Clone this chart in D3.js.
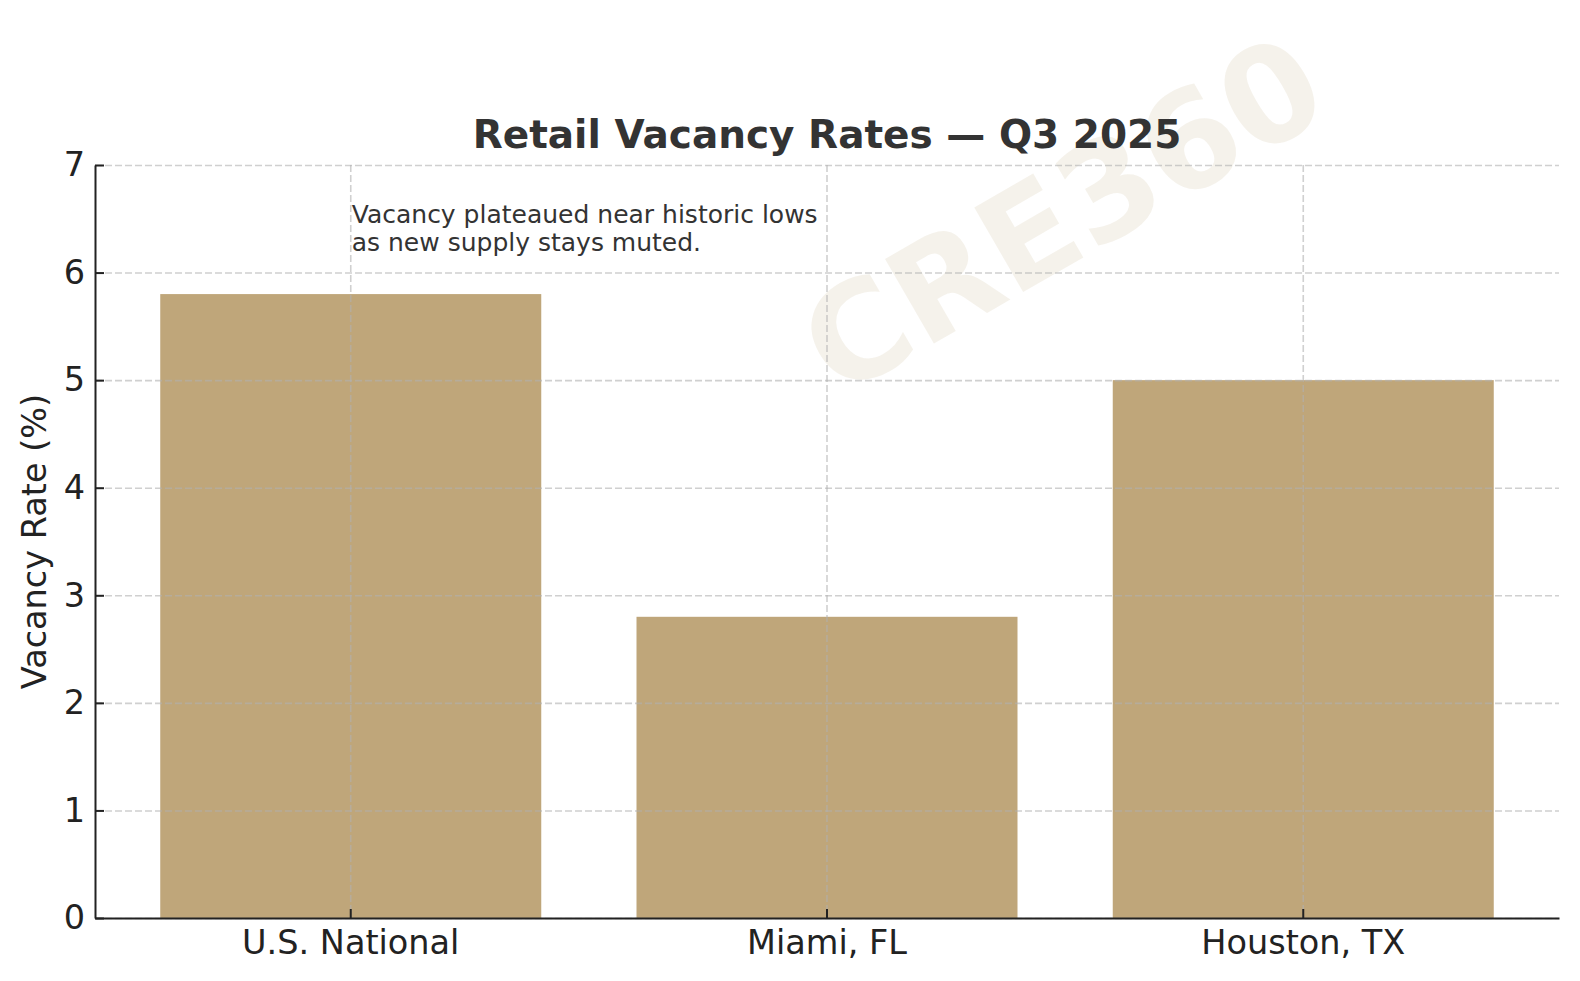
<!DOCTYPE html>
<html>
<head>
<meta charset="utf-8">
<script src="https://cdn.jsdelivr.net/npm/d3@7"></script>
<style>
  body { margin: 0; background: #fff; }
  text { font-family: "DejaVu Sans", sans-serif; }
</style>
</head>
<body>
<div class="vacancy-plot"></div>
<script>
// values
const regions = ['U.S. National', 'Miami, FL', 'Houston, TX'];
const vacancy = [5.8, 2.8, 5.0];
const yTicks = [0, 1, 2, 3, 4, 5, 6, 7];
const chartTitle = 'Retail Vacancy Rates — Q3 2025';
const yLabel = 'Vacancy Rate (%)';
const noteLines = ['Vacancy plateaued near historic lows', 'as new supply stays muted.'];
const watermark = 'CRE360';

const rows = regions.map((r, i) => ({region: r, rate: vacancy[i]}));

makeBars();

function makeBars() {

    const outerWidth = 1580;
    const outerHeight = 981;

    const margin = {top:165, left:95, bottom:63, right:21};
    const width = outerWidth - margin.left - margin.right;
    const height = outerHeight - margin.top - margin.bottom;

    const barColor = '#bfa67a';

    const root = d3.select('.vacancy-plot')
                .append('svg')
                .attr('width', outerWidth)
                .attr('height', outerHeight);

    // faint watermark behind everything
    root.append('text')
        .attr('x', 1062)
        .attr('y', 214)
        .attr('dy', '0.36em')
        .attr('transform', 'rotate(-30, 1062, 214)')
        .attr('text-anchor', 'middle')
        .attr('font-size', 134)
        .attr('font-weight', 'bold')
        .attr('fill', barColor)
        .attr('fill-opacity', 0.15)
        .text(watermark);

    const svg = root.append('g')
                .attr('transform', `translate(${margin.left}, ${margin.top})`);

    const xScale = d3.scaleBand()
                .domain(regions)
                .range([0, width])
                .paddingInner(0.2)
                .paddingOuter(0.137);
    const yScale = d3.scaleLinear()
                .domain([0, 7])
                .range([height, 0]);

    svg.selectAll('.bar')
        .data(rows)
        .enter()
        .append('rect')
        .attr('class', 'bar')
        .attr('x', d => xScale(d.region))
        .attr('y', d => yScale(d.rate))
        .attr('width', xScale.bandwidth())
        .attr('height', d => height - yScale(d.rate))
        .attr('fill', barColor);

    // dashed grid, drawn over the bars
    svg.append('g')
        .call(d3.axisLeft(yScale).tickValues(yTicks).tickSize(-width).tickFormat(''))
        .call(g => g.select('.domain').remove())
        .call(g => g.selectAll('.tick line')
                    .attr('stroke', '#b0b0b0')
                    .attr('stroke-opacity', 0.6)
                    .attr('stroke-width', 1.6)
                    .attr('stroke-dasharray', '7,3'));

    svg.append('g')
        .call(d3.axisBottom(xScale).tickSize(height).tickFormat(''))
        .call(g => g.select('.domain').remove())
        .call(g => g.selectAll('.tick line')
                    .attr('stroke', '#b0b0b0')
                    .attr('stroke-opacity', 0.6)
                    .attr('stroke-width', 1.6)
                    .attr('stroke-dasharray', '7,3'));

    const yAxis = d3.axisLeft(yScale)
                .tickValues(yTicks)
                .tickFormat(d3.format('d'))
                .tickSizeInner(-9)
                .tickSizeOuter(0)
                .tickPadding(10);
    const xAxis = d3.axisBottom(xScale)
                .tickSizeInner(-9)
                .tickSizeOuter(0)
                .tickPadding(12);

    svg.append('g')
        .attr('class', 'axis-y-axis')
        .call(yAxis)
        .call(g => g.selectAll('.domain, .tick line').attr('stroke', '#222').attr('stroke-width', 2))
        .call(g => g.selectAll('.tick text')
                    .attr('font-size', 33.5)
                    .attr('fill', '#222'));

    svg.append('g')
        .attr('class', 'axis-x-axis')
        .attr('transform', `translate(0, ${height})`)
        .call(xAxis)
        .call(g => g.selectAll('.domain, .tick line').attr('stroke', '#222').attr('stroke-width', 2))
        .call(g => g.selectAll('.tick text')
                    .attr('font-size', 33.5)
                    .attr('fill', '#222'));

    svg.append('text')
        .attr('transform', `translate(${46 - margin.left}, ${height / 2}) rotate(-90)`)
        .attr('text-anchor', 'middle')
        .attr('font-size', 33.5)
        .attr('fill', '#222')
        .text(yLabel);

    // annotation over the first bar
    const noteX = xScale(regions[0]) + xScale.bandwidth() / 2 + 1;
    const note = svg.append('text')
        .attr('x', noteX)
        .attr('y', 222.7 - margin.top)
        .attr('font-size', 25)
        .attr('fill', '#333');
    note.selectAll('tspan')
        .data(noteLines)
        .enter()
        .append('tspan')
        .attr('x', noteX)
        .attr('dy', (d, i) => i === 0 ? 0 : 28.5)
        .text(d => d);

    root.append('text')
        .attr('x', margin.left + width / 2)
        .attr('y', 148)
        .attr('text-anchor', 'middle')
        .attr('font-size', 39)
        .attr('font-weight', 'bold')
        .attr('fill', '#333')
        .text(chartTitle);
}
</script>
</body>
</html>
